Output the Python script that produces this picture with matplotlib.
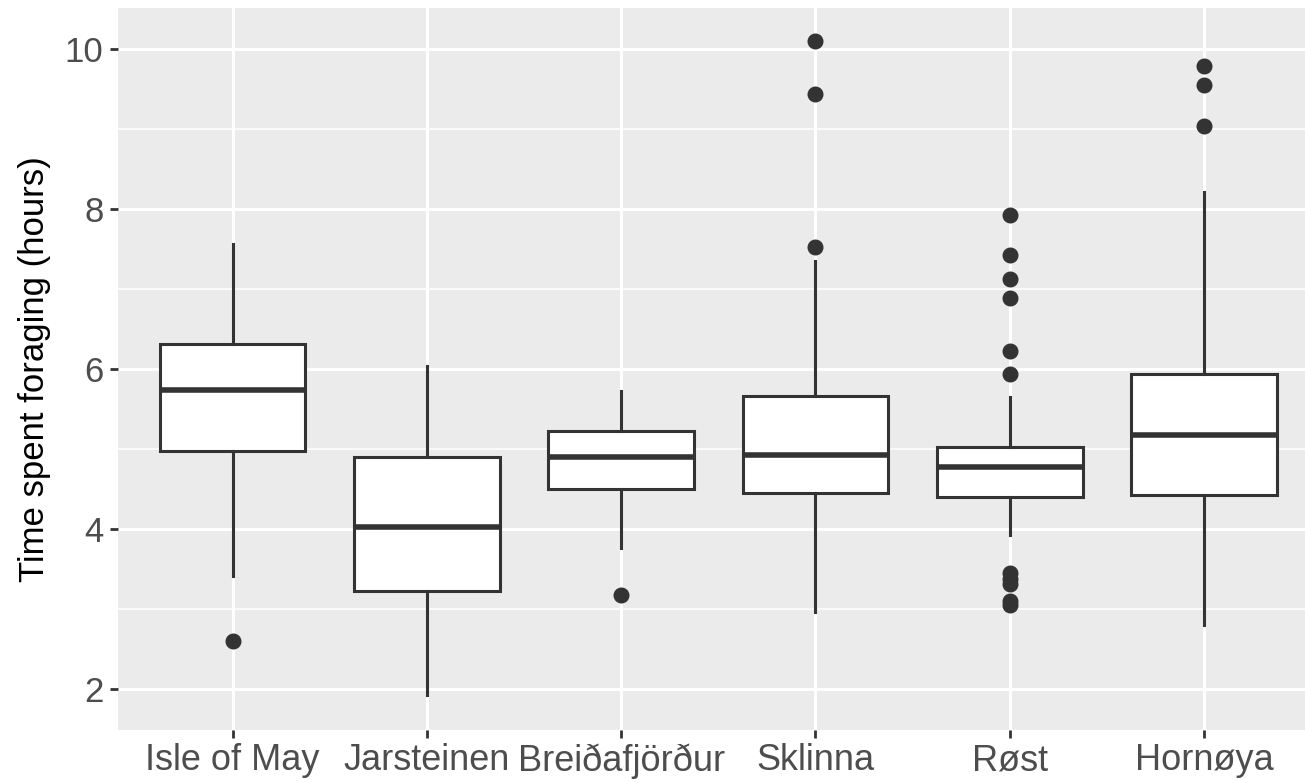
import matplotlib
matplotlib.use("Agg")
import matplotlib.pyplot as plt
from matplotlib.ticker import MultipleLocator

sites = ["Isle of May", "Jarsteinen", "Breiðafjörður", "Sklinna", "Røst", "Hornøya"]
q1 = [4.98, 3.23, 4.50, 4.45, 4.40, 4.42]
med = [5.74, 4.03, 4.90, 4.92, 4.78, 5.18]
q3 = [6.31, 4.90, 5.23, 5.66, 5.02, 5.94]
whislo = [3.41, 1.93, 3.76, 2.97, 3.93, 2.80]
whishi = [7.56, 6.04, 5.73, 7.35, 5.65, 8.21]
fliers = [
    [2.60],
    [],
    [3.18],
    [10.10, 9.43, 7.53],
    [7.93, 7.42, 7.13, 6.89, 6.22, 5.94, 3.45, 3.38, 3.32, 3.10, 3.05],
    [9.79, 9.55, 9.04],
]
ylabel = "Time spent foraging (hours)"
yticks = [2, 4, 6, 8, 10]

plt.rcParams['font.family'] = ['Liberation Sans', 'DejaVu Sans']

fig = plt.figure(figsize=(13.05, 7.83), dpi=100)
ax = fig.add_axes([118/1305, 53/783, 1 - 118/1305, (730-8)/783])
ax.set_facecolor("#EBEBEB")

stats = []
for i in range(len(sites)):
    stats.append(dict(label=sites[i], q1=q1[i], med=med[i], q3=q3[i],
                      whislo=whislo[i], whishi=whishi[i], fliers=fliers[i]))

edge = "#333333"
ax.bxp(stats, positions=range(1, len(sites) + 1), widths=0.75,
       patch_artist=True, showcaps=False,
       boxprops=dict(facecolor="white", edgecolor=edge, linewidth=2.2),
       medianprops=dict(color=edge, linewidth=4.0),
       whiskerprops=dict(color=edge, linewidth=2.2),
       flierprops=dict(marker="o", markerfacecolor=edge, markeredgecolor=edge,
                       markersize=10.5, linestyle="none"),
       zorder=3)

ax.set_xlim(0.41, 6.52)
ax.set_ylim(1.49, 10.51)
ax.set_yticks(yticks)
ax.yaxis.set_minor_locator(MultipleLocator(1))
ax.set_xticks(range(1, len(sites) + 1))
ax.set_xticklabels(sites, fontsize=26)

ax.grid(which="major", color="white", linewidth=2.2, zorder=0)
ax.grid(which="minor", axis="y", color="white", linewidth=1.1, zorder=0)
ax.set_axisbelow(True)
for s in ax.spines.values():
    s.set_visible(False)

ax.tick_params(axis="both", which="major", length=5.5, width=2, color="#333333",
               labelcolor="#4D4D4D", pad=4)
ax.tick_params(axis="y", which="minor", length=0)
ax.tick_params(axis="y", labelsize=25, pad=5)
ax.set_ylabel(ylabel, fontsize=25, color="black", labelpad=10)

fig.savefig("out.png", dpi=100)
